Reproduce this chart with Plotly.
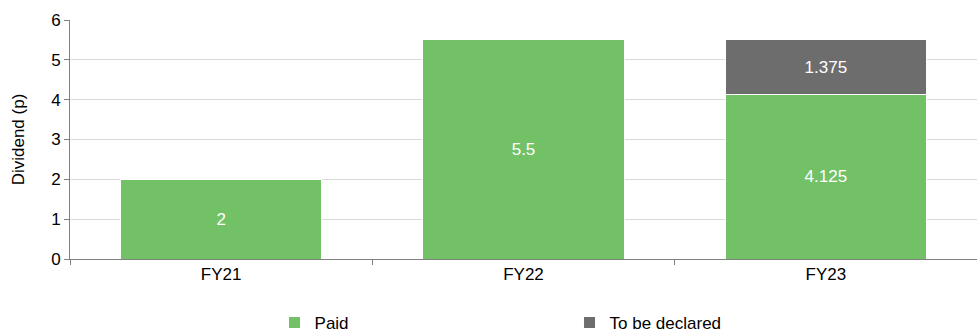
import plotly.graph_objects as go

categories = ["FY21", "FY22", "FY23"]
paid = [2, 5.5, 4.125]
to_be_declared = [None, None, 1.375]
paid_labels = ["2", "5.5", "4.125"]
tbd_labels = ["", "", "1.375"]

FONT = "Liberation Sans, Arial, sans-serif"
FS = 17

fig = go.Figure()
fig.add_trace(go.Bar(
    x=categories, y=paid, name="Paid",
    marker=dict(color="#73c167", line=dict(color="white", width=1)),
    text=paid_labels, textposition="inside", insidetextanchor="middle",
    textfont=dict(color="white", size=FS, family=FONT),
))
fig.add_trace(go.Bar(
    x=categories, y=to_be_declared, name="To be declared",
    marker=dict(color="#6d6d6d", line=dict(color="white", width=1)),
    text=tbd_labels, textposition="inside", insidetextanchor="middle",
    textfont=dict(color="white", size=FS, family=FONT),
))

fig.update_layout(
    barmode="stack",
    bargap=1/3,
    width=977, height=335,
    margin=dict(l=70, r=0, t=20, b=76),
    paper_bgcolor="white", plot_bgcolor="white",
    font=dict(family=FONT, size=FS, color="#000000"),
    showlegend=True,
    legend=dict(
        orientation="h", traceorder="normal",
        xref="container", x=0.281, xanchor="left",
        yref="container", y=0.036, yanchor="middle",
        entrywidth=250, entrywidthmode="pixels",
        font=dict(size=FS, family=FONT), itemclick=False,
    ),
    xaxis=dict(
        showline=True, linecolor="#808080", linewidth=1,
        ticks="outside", tickson="boundaries", ticklen=5, tickcolor="#808080",
        tickfont=dict(size=FS), showgrid=False,
    ),
    yaxis=dict(
        range=[0, 6], dtick=1, showline=True, linecolor="#808080", linewidth=1,
        ticks="outside", ticklen=5, tickcolor="#808080",
        gridcolor="#d9d9d9", gridwidth=1, zeroline=False,
        tickfont=dict(size=FS),
        title=dict(text="Dividend (p)", font=dict(size=FS), standoff=22),
    ),
)

fig.write_html("out.html")
